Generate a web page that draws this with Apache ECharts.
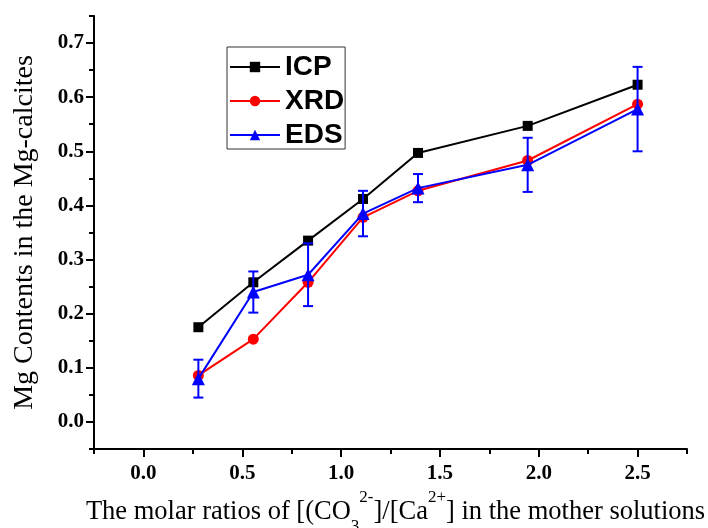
<!DOCTYPE html>
<html><head><meta charset="utf-8">
<script src="https://cdn.jsdelivr.net/npm/echarts@6/dist/echarts.min.js"></script>
<style>html,body{margin:0;padding:0;background:#fff}#c{width:708px;height:528px}</style>
</head><body><div id="c"></div>
<script>
// ---- data ----
const xValues = [0.278, 0.556, 0.833, 1.111, 1.389, 1.944, 2.5];
const icpValues = [0.175, 0.258, 0.335, 0.412, 0.497, 0.547, 0.623];
const xrdValues = [0.086, 0.153, 0.258, 0.378, 0.427, 0.483, 0.587];
const edsValues = [0.080, 0.240, 0.272, 0.385, 0.432, 0.475, 0.578];
const edsErrors = [0.035, 0.038, 0.058, 0.042, 0.026, 0.050, 0.078];
const seriesNames = ['ICP', 'XRD', 'EDS'];
const xTickLabels = [0, 0.5, 1.0, 1.5, 2.0, 2.5];
const xMinorTicks = [-0.25, 0.25, 0.75, 1.25, 1.75, 2.25, 2.75];
const yTickLabels = [0, 0.1, 0.2, 0.3, 0.4, 0.5, 0.6, 0.7];
const yMinorTicks = [-0.05, 0.05, 0.15, 0.25, 0.35, 0.45, 0.55, 0.65, 0.75];

const pairs = vals => xValues.map((x, i) => [x, vals[i]]);
const errData = xValues.map((x, i) => [x, edsValues[i], edsErrors[i]]);

const X_MIN = -0.25, X_MAX = 2.75, Y_MIN = -0.05, Y_MAX = 0.75;
const labelFont = {fontFamily: 'Liberation Serif', fontWeight: 'bold', fontSize: 21, color: '#000'};
const lineBlack = {color: '#000', width: 2};

const chart = echarts.init(document.getElementById('c'), null, {renderer: 'canvas'});
chart.setOption({
  animation: false,
  backgroundColor: '#fff',
  grid: {left: 94, right: 21, top: 16, bottom: 79, containLabel: false, outerBoundsMode: 'none'},
  legend: {
    orient: 'vertical', left: 227, top: 47,
    data: seriesNames,
    itemWidth: 50, itemHeight: 13, itemGap: 6,
    padding: [6, 1, 0, 2],
    borderColor: '#333', borderWidth: 1,
    textStyle: {fontFamily: 'Liberation Sans', fontWeight: 'bold', fontSize: 28, color: '#000'}
  },
  xAxis: [{
    type: 'value', min: X_MIN, max: X_MAX, position: 'bottom',
    axisLine: {onZero: false, lineStyle: lineBlack},
    axisTick: {customValues: xTickLabels, length: 8, lineStyle: lineBlack},
    axisLabel: Object.assign({customValues: xTickLabels, margin: 14, formatter: v => v.toFixed(1)}, labelFont),
    splitLine: {show: false},
    name: '{a|The molar ratios of [(CO}{sub|3}{sup|2-}{a|]/[Ca}{sup|2+}{a|] in the mother solutions}',
    nameLocation: 'middle', nameGap: 38,
    nameTextStyle: {
      fontFamily: 'Liberation Serif', fontSize: 26.5, color: '#000', padding: [0, 0, 0, 10],
      rich: {
        a: {fontFamily: 'Liberation Serif', fontSize: 26.5, color: '#000', lineHeight: 46},
        sub: {fontFamily: 'Liberation Serif', fontSize: 17, color: '#000', lineHeight: 17, verticalAlign: 'bottom'},
        sup: {fontFamily: 'Liberation Serif', fontSize: 17, color: '#000', lineHeight: 17, verticalAlign: 'top'}
      }
    }
  }, {
    type: 'value', min: X_MIN, max: X_MAX, position: 'bottom',
    axisLine: {show: false, onZero: false},
    axisTick: {customValues: xMinorTicks, length: 5, lineStyle: lineBlack},
    axisLabel: {show: false},
    splitLine: {show: false}
  }],
  yAxis: [{
    type: 'value', min: Y_MIN, max: Y_MAX, position: 'left',
    axisLine: {show: true, onZero: false, lineStyle: lineBlack},
    axisTick: {show: true, customValues: yTickLabels, length: 8, lineStyle: lineBlack},
    axisLabel: Object.assign({customValues: yTickLabels, margin: 10, formatter: v => v.toFixed(1)}, labelFont),
    splitLine: {show: false},
    name: 'Mg Contents in the Mg-calcites',
    nameLocation: 'middle', nameGap: 55, nameRotate: 90,
    nameTextStyle: {fontFamily: 'Liberation Serif', fontSize: 28, color: '#000'}
  }, {
    type: 'value', min: Y_MIN, max: Y_MAX, position: 'left',
    axisLine: {show: false, onZero: false},
    axisTick: {show: true, customValues: yMinorTicks, length: 5, lineStyle: lineBlack},
    axisLabel: {show: false},
    splitLine: {show: false}
  }],
  series: [{
    name: seriesNames[0], type: 'line', data: pairs(icpValues),
    symbol: 'rect', symbolSize: 10,
    itemStyle: {color: '#000'}, lineStyle: {color: '#000', width: 2}, z: 3
  }, {
    name: seriesNames[1], type: 'line', data: pairs(xrdValues),
    symbol: 'circle', symbolSize: 11,
    itemStyle: {color: '#ff0000'}, lineStyle: {color: '#ff0000', width: 2}, z: 4
  }, {
    name: seriesNames[2], type: 'line', data: pairs(edsValues),
    symbol: 'triangle', symbolSize: 13,
    itemStyle: {color: '#0000ff'}, lineStyle: {color: '#0000ff', width: 2}, z: 5
  }, {
    name: 'EDS error', type: 'custom', data: errData, z: 5,
    renderItem: (params, api) => {
      const x = api.value(0), y = api.value(1), e = api.value(2);
      const t = api.coord([x, y + e]), b = api.coord([x, y - e]);
      const hw = 5;
      const st = {stroke: '#0000ff', lineWidth: 2};
      return {type: 'group', children: [
        {type: 'line', shape: {x1: t[0], y1: t[1], x2: b[0], y2: b[1]}, style: st},
        {type: 'line', shape: {x1: t[0] - hw, y1: t[1], x2: t[0] + hw, y2: t[1]}, style: st},
        {type: 'line', shape: {x1: b[0] - hw, y1: b[1], x2: b[0] + hw, y2: b[1]}, style: st}
      ]};
    }
  }]
});
</script></body></html>
